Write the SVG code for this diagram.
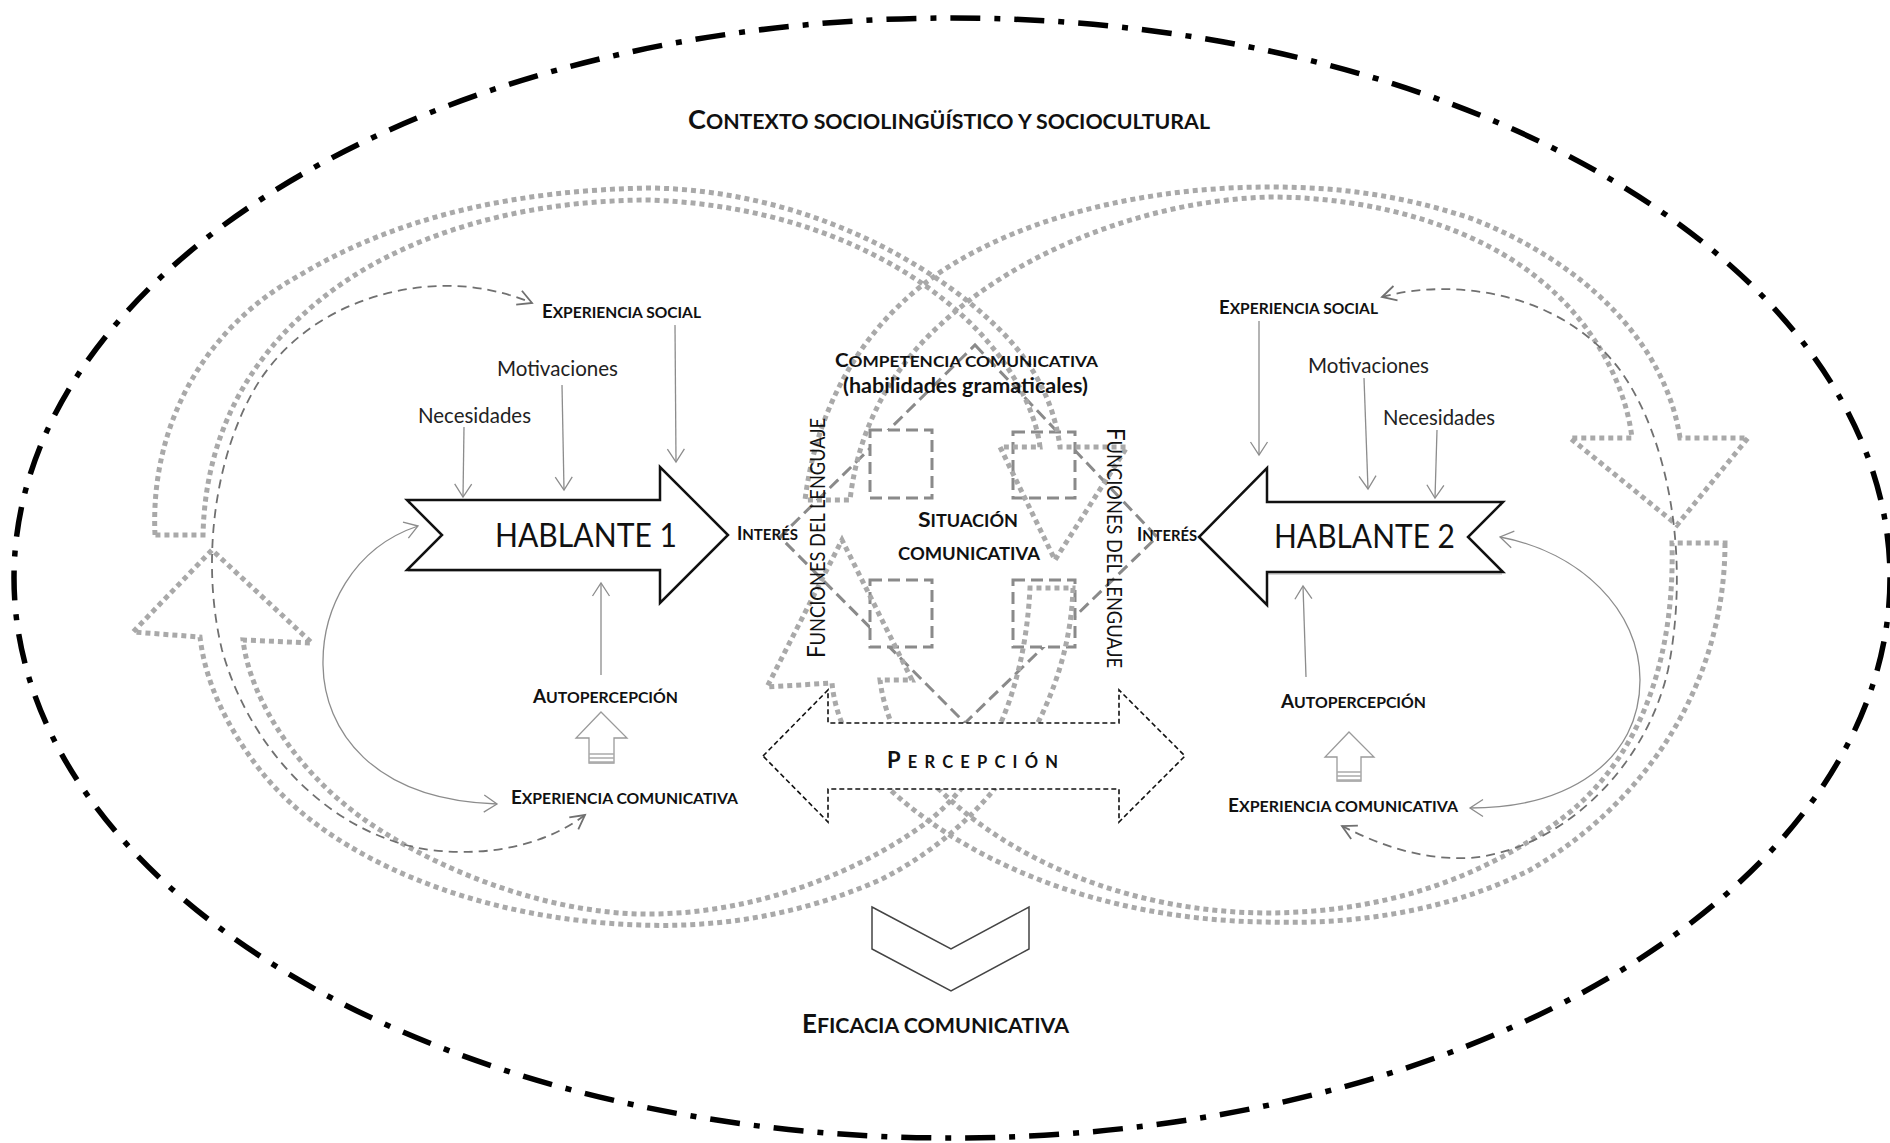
<svg xmlns="http://www.w3.org/2000/svg" width="1890" height="1143" viewBox="0 0 1890 1143">
<defs>
<style>
.t{font-family:Lato,"Open Sans","Liberation Sans",sans-serif;fill:#111}
.b{font-weight:bold}
.n{fill:#222}
.ctx{fill:none;stroke:#000;stroke-width:5.5;stroke-dasharray:30 14 6 14}
.loop{fill:none;stroke:#a9a9a9;stroke-width:5;stroke-dasharray:5 4}
.thin{fill:none;stroke:#8c8c8c;stroke-width:1.3}
.dash{fill:none;stroke:#707070;stroke-width:1.8;stroke-dasharray:9 6}
.dia{fill:none;stroke:#8a8a8a;stroke-width:3;stroke-dasharray:12 6}
.sq{fill:#fff;stroke:#8a8a8a;stroke-width:3;stroke-dasharray:12 6}
.hab{fill:#fff;stroke:#111;stroke-width:2.5}
.habs{fill:none;stroke:#b0b0b0;stroke-width:1.2}
.per{fill:#fff;stroke:#111;stroke-width:1.6;stroke-dasharray:5 3}
.blk{fill:#fff;stroke:#9a9a9a;stroke-width:1.3}
.chev{fill:#fff;stroke:#444;stroke-width:1.5}
</style>
<marker id="ah" markerUnits="userSpaceOnUse" markerWidth="20" markerHeight="20" refX="0" refY="0" orient="auto-start-reverse" overflow="visible">
<path d="M-13,-8.5 L0,0 L-13,8.5" fill="none" stroke="#8c8c8c" stroke-width="1.3"/>
</marker>
<marker id="ahd" markerUnits="userSpaceOnUse" markerWidth="20" markerHeight="20" refX="0" refY="0" orient="auto-start-reverse" overflow="visible">
<path d="M-14,-7.5 L0,0 L-14,7.5" fill="none" stroke="#707070" stroke-width="1.8"/>
</marker>
</defs>

<rect width="1890" height="1143" fill="#fff"/>

<!-- sociolinguistic context boundary -->
<g id="contexto">
<ellipse class="ctx" cx="952" cy="578" rx="938" ry="560"/>
<text class="t b" x="688" y="129" textLength="522" lengthAdjust="spacingAndGlyphs"><tspan font-size="26">C</tspan><tspan font-size="20.5">ONTEXTO SOCIOLINGÜÍSTICO Y SOCIOCULTURAL</tspan></text>
</g>

<!-- communicative situation diamond -->
<g id="situacion">
<path class="dia" d="M975,345 L1157,537 L965,723 L780,537 Z"/>
<rect class="sq" x="870" y="430" width="62" height="68"/>
<rect class="sq" x="1013" y="432" width="62" height="66"/>
<rect class="sq" x="870" y="580" width="62" height="67"/>
<rect class="sq" x="1013" y="580" width="62" height="67"/>
</g>

<!-- dotted circular flows -->
<g id="ciclos">
<path class="loop" d="M155,535 C150,430 200,330 300,275 C400,215 520,190 650,188 C800,190 930,260 1000,330 C1040,370 1055,410 1060,447 L1127,447 L1055,560 L1000,447 L1040,447 C1035,405 1005,355 965,318 C895,252 785,205 650,200 C520,200 400,235 320,300 C245,360 205,440 203,535 Z"/>
<path class="loop" d="M1073,588 C1070,700 1000,820 880,880 C800,915 720,928 640,925 C480,920 330,860 260,770 C225,725 205,680 200,637 L133,632 L212,550 L312,643 L243,640 C250,700 300,780 380,830 C450,875 550,912 640,914 C740,916 850,880 930,820 C990,770 1025,690 1030,588 Z"/>
<path class="loop" d="M1680,438 C1665,340 1580,260 1470,218 C1400,195 1340,187 1270,187 C1120,187 980,230 905,300 C850,350 815,420 805,500 L850,500 C858,430 890,370 940,325 C1020,250 1150,200 1270,197 C1380,197 1480,230 1540,280 C1590,320 1625,380 1632,438 L1570,438 L1677,525 L1748,438 Z"/>
<path class="loop" d="M1725,543 C1725,680 1650,800 1530,870 C1450,910 1360,925 1266,922 C1100,920 960,860 880,780 C850,750 835,715 832,683 L767,687 L842,540 L912,680 L880,680 C885,720 905,760 940,790 C1010,860 1130,912 1266,913 C1380,913 1480,880 1560,820 C1640,760 1675,660 1672,543 Z"/>
</g>

<!-- connectors -->
<g id="conectores">
<line class="thin" x1="464" y1="427" x2="463" y2="497" marker-end="url(#ah)"/>
<line class="thin" x1="562" y1="385" x2="564" y2="490" marker-end="url(#ah)"/>
<line class="thin" x1="675" y1="325" x2="676" y2="462" marker-end="url(#ah)"/>
<line class="thin" x1="601" y1="675" x2="601" y2="583" marker-end="url(#ah)"/>
<path class="thin" d="M418,526 C352,548 322,610 323,665 C324,730 372,800 497,804" marker-start="url(#ah)" marker-end="url(#ah)"/>
<path class="dash" d="M585,815 C545,845 490,857 430,850 C330,835 250,750 222,650 C200,560 215,450 260,380 C310,305 400,280 470,287 C495,290 515,296 532,303" marker-start="url(#ahd)" marker-end="url(#ahd)"/>

<line class="thin" x1="1259" y1="321" x2="1259" y2="455" marker-end="url(#ah)"/>
<line class="thin" x1="1364" y1="378" x2="1368" y2="489" marker-end="url(#ah)"/>
<line class="thin" x1="1437" y1="430" x2="1435" y2="498" marker-end="url(#ah)"/>
<line class="thin" x1="1306" y1="677" x2="1303" y2="586" marker-end="url(#ah)"/>
<path class="thin" d="M1500,537 C1580,552 1640,610 1640,680 C1640,760 1570,808 1470,808" marker-start="url(#ah)" marker-end="url(#ah)"/>
<path class="dash" d="M1382,297 C1450,278 1560,290 1620,370 C1670,440 1690,560 1668,670 C1645,770 1560,850 1470,858 C1420,860 1380,845 1342,826" marker-start="url(#ahd)" marker-end="url(#ahd)"/>
</g>

<!-- speaker 1 -->
<g id="hablante1">
<path class="habs" d="M408,503 L661,503 M661,571 L408,571"/>
<path class="hab" d="M407,500 L660,500 L660,467 L728,535 L660,603 L660,570 L407,570 L442,535 Z"/>
<text class="t" x="495" y="547" font-size="32" textLength="182" lengthAdjust="spacingAndGlyphs">HABLANTE 1</text>
</g>

<!-- speaker 2 -->
<g id="hablante2">
<path class="habs" d="M1502,505 L1268,505 M1268,574 L1502,574"/>
<path class="hab" d="M1503,502 L1267,502 L1267,468 L1199,537 L1267,605 L1267,572 L1503,572 L1468,537 Z"/>
<text class="t" x="1274" y="548" font-size="32" textLength="181" lengthAdjust="spacingAndGlyphs">HABLANTE 2</text>
</g>

<!-- self-perception block arrows -->
<g id="bloque1">
<path class="blk" d="M601,712 L627,738 L614,738 L614,763 L589,763 L589,738 L576,738 Z"/>
<path d="M589,754 H614 M589,758 H614 M589,762 H614" stroke="#aaa" stroke-width="1.5"/>
</g>
<g id="bloque2">
<path class="blk" d="M1349,732 L1374,757 L1361,757 L1361,781 L1337,781 L1337,757 L1325,757 Z"/>
<path d="M1337,772 H1361 M1337,776 H1361 M1337,780 H1361" stroke="#aaa" stroke-width="1.5"/>
</g>

<!-- perception double arrow -->
<g id="percepcion">
<path class="per" d="M763,756 L828,690 L828,723 L1119,723 L1119,690 L1185,756 L1119,822 L1119,789 L828,789 L828,822 Z"/>
<text class="t b" x="887" y="768" textLength="171" lengthAdjust="spacing"><tspan font-size="22">P</tspan><tspan font-size="16.5">ERCEPCIÓN</tspan></text>
</g>

<!-- communicative efficacy -->
<g id="eficacia">
<path class="chev" d="M872,907 L951,949 L1029,907 L1029,949 L951,991 L872,949 Z"/>
<text class="t b" x="802" y="1033" textLength="267" lengthAdjust="spacingAndGlyphs"><tspan font-size="26">E</tspan><tspan font-size="21.5">FICACIA COMUNICATIVA</tspan></text>
</g>

<!-- labels -->
<g id="etiquetas">
<text class="t b" x="542" y="318" textLength="159" lengthAdjust="spacingAndGlyphs"><tspan font-size="18.5">E</tspan><tspan font-size="15.5">XPERIENCIA SOCIAL</tspan></text>
<text class="t n" x="497" y="376" font-size="20.5" textLength="121" lengthAdjust="spacingAndGlyphs">Motivaciones</text>
<text class="t n" x="418" y="423" font-size="20.5" textLength="113" lengthAdjust="spacingAndGlyphs">Necesidades</text>
<text class="t b" x="737" y="540" textLength="61" lengthAdjust="spacingAndGlyphs"><tspan font-size="18.5">I</tspan><tspan font-size="15.5">NTERÉS</tspan></text>
<text class="t b" x="533" y="703" textLength="145" lengthAdjust="spacingAndGlyphs"><tspan font-size="18.5">A</tspan><tspan font-size="15.5">UTOPERCEPCIÓN</tspan></text>
<text class="t b" x="511" y="804" textLength="227" lengthAdjust="spacingAndGlyphs"><tspan font-size="18.5">E</tspan><tspan font-size="15.5">XPERIENCIA COMUNICATIVA</tspan></text>

<text class="t b" x="1219" y="314" textLength="159" lengthAdjust="spacingAndGlyphs"><tspan font-size="18.5">E</tspan><tspan font-size="15.5">XPERIENCIA SOCIAL</tspan></text>
<text class="t n" x="1308" y="373" font-size="20.5" textLength="121" lengthAdjust="spacingAndGlyphs">Motivaciones</text>
<text class="t n" x="1383" y="425" font-size="20.5" textLength="112" lengthAdjust="spacingAndGlyphs">Necesidades</text>
<text class="t b" x="1137" y="541" textLength="60" lengthAdjust="spacingAndGlyphs"><tspan font-size="18.5">I</tspan><tspan font-size="15.5">NTERÉS</tspan></text>
<text class="t b" x="1281" y="708" textLength="145" lengthAdjust="spacingAndGlyphs"><tspan font-size="18.5">A</tspan><tspan font-size="15.5">UTOPERCEPCIÓN</tspan></text>
<text class="t b" x="1228" y="812" textLength="230" lengthAdjust="spacingAndGlyphs"><tspan font-size="18.5">E</tspan><tspan font-size="15.5">XPERIENCIA COMUNICATIVA</tspan></text>

<text class="t b" x="835" y="367" textLength="263" lengthAdjust="spacingAndGlyphs"><tspan font-size="18.5">C</tspan><tspan font-size="15.5">OMPETENCIA COMUNICATIVA</tspan></text>
<text class="t b" x="843" y="393" font-size="21" textLength="245" lengthAdjust="spacingAndGlyphs">(habilidades gramaticales)</text>
<text class="t b" x="918" y="527" textLength="100" lengthAdjust="spacingAndGlyphs"><tspan font-size="21">S</tspan><tspan font-size="16.5">ITUACIÓN</tspan></text>
<text class="t b" x="898" y="560" font-size="16.5" textLength="142" lengthAdjust="spacingAndGlyphs">COMUNICATIVA</text>

<text class="t" transform="translate(825,658) rotate(-90)" textLength="240" lengthAdjust="spacingAndGlyphs"><tspan font-size="25">F</tspan><tspan font-size="20.5">UNCIONES DEL LENGUAJE</tspan></text>
<text class="t" transform="translate(1107,428) rotate(90)" textLength="240" lengthAdjust="spacingAndGlyphs"><tspan font-size="25">F</tspan><tspan font-size="20.5">UNCIONES DEL LENGUAJE</tspan></text>
</g>
</svg>
